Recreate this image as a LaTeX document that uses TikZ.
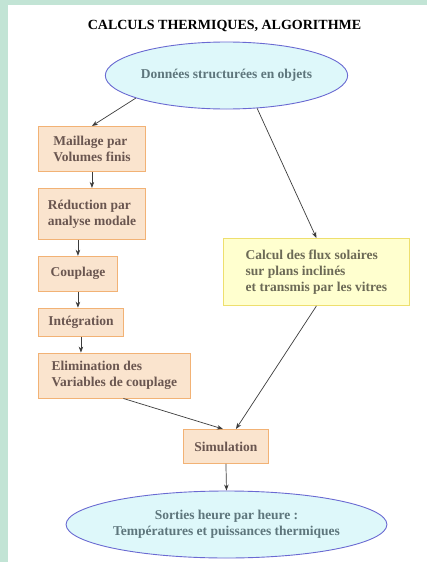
\documentclass[tikz,border=0pt]{standalone}
\usepackage{fontspec}
\setmainfont{Liberation Serif}
\usepackage{tikz}
\usetikzlibrary{
  arrows.meta,
  shapes.geometric,
  positioning
}
\definecolor{thBack}{HTML}{C2E4D5}
\definecolor{thPeach}{HTML}{FAE4CE}
\definecolor{thOrange}{HTML}{F2B275}
\definecolor{thPeachText}{HTML}{6A5650}
\definecolor{thCyan}{HTML}{DEF8FA}
\definecolor{thBlue}{HTML}{6A6AD2}
\definecolor{thCyanText}{HTML}{5E767C}
\definecolor{thYellow}{HTML}{FFFFCF}
\definecolor{thGold}{HTML}{EEDF6E}
\definecolor{thYellowText}{HTML}{6C6A56}
\definecolor{thLine}{HTML}{3C3C3C}
\tikzset{
  thnode/.style={
    draw, line width=0.9pt, align=left, inner sep=2pt,
    font=\fontsize{13.5}{16}\selectfont\bfseries
  },
  etape/.style={thnode, fill=thPeach, draw=thOrange, text=thPeachText},
  calcul/.style={thnode, fill=thYellow, draw=thGold, text=thYellowText},
  donnee/.style={thnode, ellipse, align=center, inner sep=0pt, fill=thCyan, draw=thBlue, text=thCyanText},
  titre/.style={font=\fontsize{14}{16}\selectfont\bfseries},
  flow/.style={-{Stealth[length=6pt, width=4.5pt]}, line width=0.7pt, thLine}
}

\begin{document}
\begin{tikzpicture}[x=1pt, y=-1pt, node distance=16pt]
  % fond
  \fill[thBack] (0,0) rectangle (427,562);
  \fill[white] (8,5) rectangle (427,562);
  \useasboundingbox (0,0) rectangle (427,562);

  \node[titre] (title) at (224.5,26) {CALCULS THERMIQUES, ALGORITHME};
  \node[donnee, minimum width=197pt, minimum height=67pt] (donnees) at (226.5,75.5) {Données structurées en objets};

  % chaine de gauche
  \node[etape, anchor=north west, minimum width=107pt, minimum height=45pt] (maille) at (38,126) {Maillage par\\Volumes finis};
  \node[etape, below=of maille.south west, anchor=north west, minimum width=107pt, minimum height=51pt] (reduc) {Réduction par\\analyse modale};
  \node[etape, below=of reduc.south west, anchor=north west, minimum width=79pt, minimum height=35pt] (coupl) {Couplage};
  \node[etape, below=of coupl.south west, anchor=north west, minimum width=85pt, minimum height=28pt] (integ) {Intégration};
  \node[etape, below=of integ.south west, anchor=north west, minimum width=152pt, minimum height=45pt] (elim) {Elimination des\\Variables de couplage};

  % flux solaires
  \node[calcul, anchor=north west, minimum width=186pt, minimum height=67pt] (flux) at (223,238) {Calcul des flux solaires\\sur plans inclinés\\et transmis par les vitres};

  \node[etape, anchor=north west, minimum width=85pt, minimum height=34pt, align=center] (simul) at (183,429) {Simulation};
  \node[donnee, minimum width=265pt, minimum height=67pt] (sorties) at (226.5,524.5) {Sorties heure par heure :\\Températures et puissances thermiques};

  \draw[flow] (donnees.194) -- (maille.north);
  \draw[flow] (donnees.-47) -- (flux.north);
  \draw[flow] (maille.south) -- (maille.south |- reduc.north);
  \draw[flow] (reduc.south -| coupl.north) -- (coupl.north);
  \draw[flow] (coupl.south) -- (coupl.south |- integ.north);
  \draw[flow] (integ.south) -- (integ.south |- elim.north);
  \draw[flow] ([xshift=9pt]elim.south) -- ([xshift=-3pt]simul.north);
  \draw[flow] (flux.south) -- ([xshift=10pt]simul.north);
  \draw[flow] (simul.south) -- (sorties.north);
\end{tikzpicture}
\end{document}
